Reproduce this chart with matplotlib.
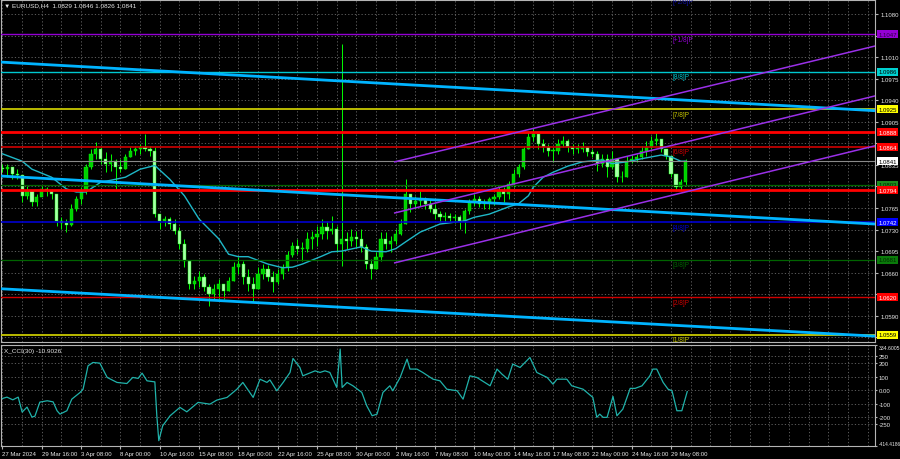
import numpy as np
import pandas as pd
import matplotlib
matplotlib.use('Agg')
import matplotlib.pyplot as plt

# EURUSD, 8-hour steps (bar index 0 = 27 Mar 2024 00:00)
first_open = 1.0830
closes = [1.0828, 1.0832, 1.0820, 1.0819, 1.0785, 1.0793, 1.0775, 1.0783, 1.0796, 1.0793,
          1.0788, 1.0744, 1.0741, 1.0737, 1.0763, 1.0780, 1.0793, 1.0832, 1.0853, 1.0861,
          1.0845, 1.0836, 1.0841, 1.0832, 1.0828, 1.0848, 1.0858, 1.0861, 1.0864, 1.0861,
          1.0858, 1.0755, 1.0744, 1.0747, 1.0739, 1.0728, 1.0707, 1.0679, 1.0642, 1.0647,
          1.0653, 1.0637, 1.0626, 1.0634, 1.0642, 1.0630, 1.0647, 1.0669, 1.0674, 1.0653,
          1.0642, 1.0634, 1.0658, 1.0666, 1.0653, 1.0645, 1.0658, 1.0669, 1.0689, 1.0703,
          1.0699, 1.0699, 1.0715, 1.0718, 1.0723, 1.0734, 1.0728, 1.0731, 1.0707, 1.0715,
          1.0711, 1.0718, 1.0715, 1.0702, 1.0674, 1.0666, 1.0686, 1.0715, 1.0707, 1.0711,
          1.0723, 1.0739, 1.0788, 1.0772, 1.0776, 1.0780, 1.0772, 1.0763, 1.0755, 1.0750,
          1.0752, 1.0749, 1.0750, 1.0744, 1.0760, 1.0775, 1.0780, 1.0772, 1.0775, 1.0780,
          1.0783, 1.0793, 1.0788, 1.0804, 1.0820, 1.0832, 1.0861, 1.0880, 1.0885, 1.0869,
          1.0864, 1.0858, 1.0858, 1.0869, 1.0874, 1.0864, 1.0861, 1.0861, 1.0864, 1.0856,
          1.0853, 1.0836, 1.0845, 1.0832, 1.0845, 1.0815, 1.0815, 1.0841, 1.0845, 1.0848,
          1.0858, 1.0864, 1.0874, 1.0877, 1.0861, 1.0850, 1.0820, 1.0799, 1.0807, 1.0841]
highs = [1.0837, 1.0837, 1.0832, 1.0828, 1.0815, 1.0801, 1.0791, 1.0788, 1.0801, 1.0799,
         1.0796, 1.0785, 1.0750, 1.0747, 1.0772, 1.0785, 1.0799, 1.0837, 1.0861, 1.0872,
         1.0864, 1.0856, 1.0853, 1.0845, 1.0845, 1.0853, 1.0864, 1.0866, 1.0869, 1.0885,
         1.0866, 1.0864, 1.0755, 1.0752, 1.0750, 1.0747, 1.0734, 1.0715, 1.0674, 1.0655,
         1.0663, 1.0658, 1.0642, 1.0642, 1.0650, 1.0642, 1.0653, 1.0677, 1.0686, 1.0679,
         1.0666, 1.0653, 1.0669, 1.0674, 1.0673, 1.0663, 1.0666, 1.0674, 1.0695, 1.0710,
         1.0715, 1.0710, 1.0726, 1.0728, 1.0736, 1.0747, 1.0744, 1.0752, 1.0736, 1.1031,
         1.0726, 1.0731, 1.0728, 1.0731, 1.0707, 1.0682, 1.0694, 1.0726, 1.0726, 1.0720,
         1.0731, 1.0747, 1.0812, 1.0788, 1.0785, 1.0793, 1.0783, 1.0780, 1.0772, 1.0760,
         1.0759, 1.0757, 1.0755, 1.0754, 1.0763, 1.0780, 1.0788, 1.0785, 1.0780, 1.0783,
         1.0788, 1.0799, 1.0799, 1.0809, 1.0828, 1.0837, 1.0866, 1.0888, 1.0895, 1.0882,
         1.0877, 1.0869, 1.0864, 1.0877, 1.0882, 1.0877, 1.0869, 1.0869, 1.0872, 1.0864,
         1.0861, 1.0858, 1.0853, 1.0853, 1.0858, 1.0836, 1.0825, 1.0850, 1.0851, 1.0853,
         1.0866, 1.0874, 1.0882, 1.0888, 1.0874, 1.0858, 1.0850, 1.0819, 1.0812, 1.0845]
lows = [1.0824, 1.0815, 1.0812, 1.0812, 1.0775, 1.0780, 1.0768, 1.0768, 1.0785, 1.0785,
        1.0780, 1.0736, 1.0731, 1.0726, 1.0736, 1.0760, 1.0772, 1.0788, 1.0828, 1.0845,
        1.0836, 1.0823, 1.0825, 1.0796, 1.0823, 1.0828, 1.0848, 1.0851, 1.0853, 1.0858,
        1.0849, 1.0750, 1.0731, 1.0736, 1.0731, 1.0723, 1.0698, 1.0669, 1.0634, 1.0634,
        1.0637, 1.0630, 1.0606, 1.0617, 1.0617, 1.0617, 1.0630, 1.0647, 1.0658, 1.0642,
        1.0630, 1.0613, 1.0634, 1.0650, 1.0647, 1.0629, 1.0642, 1.0650, 1.0663, 1.0686,
        1.0690, 1.0679, 1.0694, 1.0699, 1.0703, 1.0715, 1.0715, 1.0723, 1.0694, 1.0671,
        1.0699, 1.0703, 1.0702, 1.0694, 1.0666, 1.0650, 1.0666, 1.0679, 1.0699, 1.0694,
        1.0707, 1.0721, 1.0739, 1.0759, 1.0763, 1.0768, 1.0763, 1.0759, 1.0747, 1.0742,
        1.0742, 1.0742, 1.0741, 1.0731, 1.0725, 1.0755, 1.0768, 1.0767, 1.0763, 1.0763,
        1.0770, 1.0780, 1.0775, 1.0780, 1.0799, 1.0815, 1.0828, 1.0861, 1.0874, 1.0861,
        1.0856, 1.0850, 1.0840, 1.0853, 1.0864, 1.0856, 1.0853, 1.0854, 1.0856, 1.0850,
        1.0848, 1.0825, 1.0832, 1.0815, 1.0828, 1.0807, 1.0807, 1.0815, 1.0838, 1.0840,
        1.0845, 1.0850, 1.0861, 1.0867, 1.0856, 1.0845, 1.0815, 1.0793, 1.0793, 1.0801]

# moving average (cyan thin line)
ma_bar = [0, 4, 6, 10, 13, 15, 17, 20, 22, 25, 28, 31, 34, 37, 40, 44, 46, 48, 50, 54,
          57, 59, 61, 65, 67, 69, 73, 75, 78, 80, 82, 85, 89, 92, 94, 96, 99, 103, 105, 107,
          108, 110, 112, 115, 118, 122, 124, 127, 130, 134, 136, 138, 139]
ma_val = [1.0853, 1.0841, 1.0828, 1.0815, 1.0796, 1.0791, 1.0791, 1.0807, 1.0810, 1.0815,
          1.0828, 1.0834, 1.0812, 1.0785, 1.0747, 1.0715, 1.0690, 1.0686, 1.0686, 1.0674,
          1.0668, 1.0669, 1.0674, 1.0687, 1.0694, 1.0695, 1.0702, 1.0695, 1.0694, 1.0699,
          1.0710, 1.0726, 1.0739, 1.0742, 1.0744, 1.0750, 1.0755, 1.0767, 1.0772, 1.0785,
          1.0799, 1.0815, 1.0823, 1.0833, 1.0840, 1.0843, 1.0837, 1.0840, 1.0845, 1.0851,
          1.0848, 1.0841, 1.0841]

# X_CCI(30)
cci_bar = [0, 0.9, 2.1, 3.2, 4.0, 5.0, 6.0, 6.6, 7.6, 9.1, 10.3, 11.1, 11.7, 13.1, 14.1,
           15.8, 16.4, 17.4, 18.4, 19.8, 21.3, 23.3, 25.3, 26.5, 27.6, 28.4, 29.4, 31.0,
           31.4, 31.8, 32.6, 34.1, 36.1, 37.5, 39.8, 42.2, 43.6, 45.7, 47.7, 48.9, 51.0,
           52.4, 53.8, 54.4, 55.8, 57.1, 58.5, 59.1, 60.5, 61.1, 63.6, 64.6, 65.6, 66.6,
           68.0, 68.7, 69.1, 70.1, 71.3, 73.1, 74.1, 75.2, 76.2, 77.4, 78.8, 79.4, 80.9,
           82.3, 82.9, 84.3, 85.5, 87.6, 89.0, 90.4, 92.5, 93.7, 95.1, 96.5, 99.2, 100.6,
           101.6, 102.8, 103.8, 105.3, 107.3, 108.7, 110.8, 112.0, 112.8, 114.8, 115.8,
           118.1, 120.1, 120.9, 121.5, 122.2, 123.0, 124.2, 125.0, 126.2, 127.7, 128.7,
           130.1, 131.7, 132.3, 133.1, 134.4, 135.4, 136.2, 137.2, 138.2, 139.3]
cci_val = [-62, -52, -72, -52, -163, -126, -200, -193, -89, -79, -87, -153, -178, -153, -67,
           -17, 7, 180, 205, 200, 94, 57, 49, 94, 87, 126, 69, 61,
           -190, -375, -264, -190, -128, -161, -91, -104, -74, -54, 7, 57, -54,
           81, 57, 76, -5, 57, 131, 235, 168, 106, 143, 131, 143, 131,
           20, 304, 20, 57, 32, -17, -116, -190, -178, -17, 32, -5, 94,
           230, 156, 156, 131, 81, 69, 7, -5, -67, 106, 94, 32, 156,
           119, 81, 193, 168, 242, 131, 94, 44, 81, 81, 32,
           7, -54, -202, -178, -202, -202, -47, -190, -141, 13, 13,
           32, 106, 156, 156, 57, 7, -5, -153, -153, -11]

# trend channels: (bar, price) end points
down_start, down_end = -0.5, 177.5
down_upper = [1.1002, 1.0923]
down_mid = [1.0817, 1.0739]
down_lower = [1.0634, 1.0557]
up_start, up_end = 79.8, 177.5
up_upper = [1.0840, 1.1028]
up_mid = [1.0757, 1.0947]
up_lower = [1.0676, 1.0866]

# Murrey levels and other horizontal lines
levels = [1.1108, 1.1047, 1.0986, 1.0925, 1.0888, 1.0864, 1.0841, 1.0803, 1.0794, 1.0742, 1.0681, 1.0620, 1.0559]
level_names = ['[+2/8]P', '[+1/8]P', '[8/8]P', '[7/8]P', '', '[6/8]P', '', '', '', '[4/8]P', '[3/8]P', '[2/8]P', '[1/8]P']

price_ticks = [1.1080, 1.1045, 1.1010, 1.0975, 1.0940, 1.0905, 1.0870, 1.0835, 1.0800,
               1.0765, 1.0730, 1.0695, 1.0660, 1.0625, 1.0590, 1.0555]
# ticks whose labels sit under a coloured level box on the chart
hidden_ticks = [1.1045, 1.0870, 1.0800, 1.0625, 1.0555]
cci_ticks = [334.6005, 250, 200, 100, 0, -100, -200, -250, -414.4186]
cci_tick_labels = ['334.6005', '250', '200', '100', '0.00', '-100', '-200', '-250', '-414.4186']
date_labels = ['27 Mar 2024', '29 Mar 16:00', '3 Apr 08:00', '8 Apr 00:00', '10 Apr 16:00',
               '15 Apr 08:00', '18 Apr 00:00', '22 Apr 16:00', '25 Apr 08:00', '30 Apr 00:00',
               '2 May 16:00', '7 May 08:00', '10 May 00:00', '14 May 16:00', '17 May 08:00',
               '22 May 00:00', '24 May 16:00', '29 May 08:00']
title = '\u25bc EURUSD,H4  1.0829 1.0846 1.0826 1.0841'
cci_title = 'X_CCI(30) -10.9026'

# styles
level_style = [('#1010a0', 1.0), ('#9400d3', 1.0), ('#00c8d0', 1.0), ('#c8c800', 1.3),
               ('#ff0000', 2.0), ('#d00000', 1.2), ('#8a8a8a', 0.8), ('#006400', 0.9),
               ('#ff0000', 2.0), ('#0000d0', 1.2), ('#006400', 0.9), ('#d00000', 1.0),
               ('#c8c800', 1.3)]
box_style = {1.1047: ('#9400d3', '#2a0040'), 1.0986: ('#00d0d0', 'black'),
             1.0925: ('#ffff00', 'black'), 1.0888: ('#ff0000', 'white'),
             1.0864: ('#ff0000', 'white'), 1.0841: ('white', 'black'),
             1.0803: ('#1e8c1e', '#002800'), 1.0794: ('#ff0000', 'white'),
             1.0742: ('#0000ff', 'white'), 1.0681: ('#0a7a0a', '#002800'),
             1.0620: ('#ff0000', 'white'), 1.0559: ('#ffff00', 'black')}
FONT = ['Liberation Sans', 'DejaVu Sans']
TXT = '#e8e8e8'
GRID = dict(color='#6a6a6a', linestyle=(0, (1.5, 2.5)), linewidth=0.6)

df = pd.DataFrame({'high': highs, 'low': lows, 'close': closes})
df['open'] = df['close'].shift(1).fillna(first_open)
up = df['close'] >= df['open']

fig = plt.figure(figsize=(9, 4.6), dpi=100, facecolor='black')
ax = fig.add_axes([1 / 900, 1 - 343 / 460, 874 / 900, 342 / 460], facecolor='black')
ax2 = fig.add_axes([1 / 900, 1 - 447 / 460, 874 / 900, 101 / 460], facecolor='black')

x0, x1 = -0.3, 177.5
ax.set_xlim(x0, x1)
ax.set_ylim(1.05475, 1.11027)
ax2.set_xlim(x0, x1)
ax2.set_ylim(-414.4186, 334.6005)

# grid
for a in (ax, ax2):
    for k in np.arange(0, 178, 4):
        a.axvline(k, zorder=0.5, **GRID)
    for s in a.spines.values():
        s.set_color('#b4b4b4')
        s.set_linewidth(0.8)
for p in price_ticks:
    ax.axhline(p, zorder=0.5, **GRID)
for c in cci_ticks[1:-1]:
    ax2.axhline(c, zorder=0.5, **GRID)

# candles
ax.vlines(df.index, df['low'], df['high'], color='#00ff00', linewidth=0.7, zorder=2)
body = (df['close'] - df['open']).abs().clip(lower=0.00008)
ax.bar(df.index, body, bottom=df[['open', 'close']].min(axis=1), width=0.65,
       color=np.where(up, '#00d000', '#a8ffa8'), edgecolor='#00ff00', linewidth=0.3, zorder=2)

# moving average
ax.plot(ma_bar, ma_val, color='#1fb8c8', linewidth=1.0, zorder=3)

# horizontal levels
for lv, name, (col, lw) in zip(levels, level_names, level_style):
    ax.axhline(lv, color=col, linewidth=lw, zorder=4)
    if name:
        ax.annotate(name, xy=(136.4, lv), xytext=(0, -1), textcoords='offset points',
                    ha='left', va='top', color=col, fontsize=4.7, family=FONT,
                    annotation_clip=False, clip_on=True, zorder=5)

# channels
for yy in (down_upper, down_mid, down_lower):
    ax.plot([down_start, down_end], yy, color='#00b4ff', linewidth=2.0,
            solid_capstyle='butt', zorder=4)
for yy in (up_upper, up_mid, up_lower):
    ax.plot([up_start, up_end], yy, color='#9a30e8', linewidth=1.1, zorder=4)

# right price axis
ax.yaxis.tick_right()
ax.set_yticks(price_ticks)
ax.set_yticklabels(['' if p in hidden_ticks else '%.4f' % p for p in price_ticks])
ax.tick_params(axis='y', colors='#b4b4b4', labelcolor=TXT, labelsize=4.3, length=2, pad=2)
ax.tick_params(axis='x', length=0, labelbottom=False)
for lbl in ax.get_yticklabels():
    lbl.set_family(FONT)
for lv, (fc, tc) in box_style.items():
    ax.annotate('%.4f' % lv, xy=(1, lv), xycoords=('axes fraction', 'data'),
                xytext=(2.2, 0), textcoords='offset points', ha='left', va='center',
                fontsize=4.3, family=FONT, color=tc, annotation_clip=False, zorder=6,
                bbox=dict(boxstyle='square,pad=0.25', fc=fc, ec='none'))

# CCI panel
ax2.plot(cci_bar, cci_val, color='#20b2aa', linewidth=0.9, zorder=3)
ax2.yaxis.tick_right()
ax2.set_yticks(cci_ticks)
ax2.set_yticklabels(cci_tick_labels)
ax2.tick_params(axis='y', colors='#b4b4b4', labelcolor=TXT, labelsize=4.3, length=1.5, pad=1)
ylbls = ax2.get_yticklabels()
for lbl in ylbls:
    lbl.set_family(FONT)
ylbls[0].set_va('top')
ylbls[0].set_fontsize(3.7)
ylbls[-1].set_va('bottom')
ylbls[-1].set_fontsize(3.5)

ax2.set_xticks(np.arange(0, 8 * len(date_labels), 8))
ax2.set_xticklabels(date_labels, ha='left', family=FONT)
ax2.tick_params(axis='x', colors='#b4b4b4', labelcolor=TXT, labelsize=4.3, length=2, pad=1.5)

fig.text(4 / 900, 1 - 6 / 460, title, color=TXT, fontsize=4.6, family=FONT, va='center')
fig.text(4 / 900, 1 - 351 / 460, cci_title, color=TXT, fontsize=4.6, family=FONT, va='center')

fig.savefig('out.png', dpi=100, facecolor='black')
